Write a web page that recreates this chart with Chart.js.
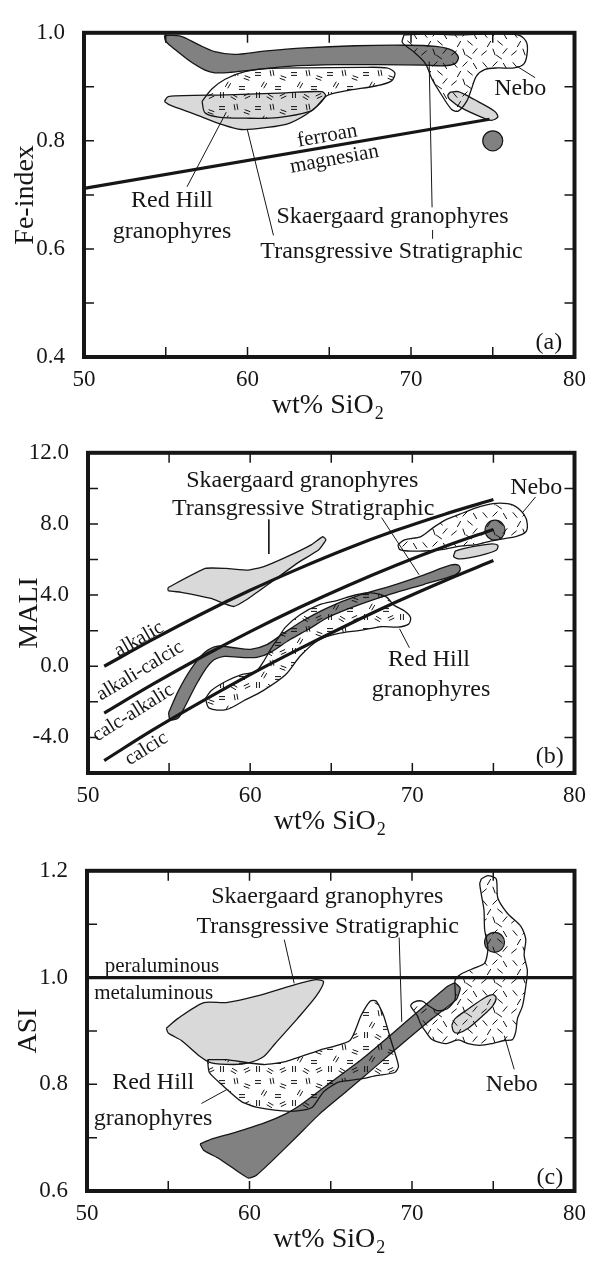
<!DOCTYPE html>
<html>
<head>
<meta charset="utf-8">
<script src="https://cdn.jsdelivr.net/npm/chart.js@4.4.1/dist/chart.umd.min.js"></script>
<style>
  html, body { margin: 0; padding: 0; background: #fff; }
  #wrap { position: relative; width: 595px; height: 1261px; overflow: hidden; }
  canvas { position: absolute; left: 0; }
</style>
</head>
<body>
<div id="wrap">
  <canvas id="chart-a" width="595" height="420" style="top:0px"></canvas>
  <canvas id="chart-b" width="595" height="418" style="top:420px"></canvas>
  <canvas id="chart-c" width="595" height="423" style="top:838px"></canvas>
</div>
<script>
// --- tick labels ---
const xTickLabels = [50, 60, 70, 80];
const feTickLabels = [0.4, 0.6, 0.8, 1.0];
const maliTickLabels = [-4, 0, 4, 8, 12];
const asiTickLabels = [0.6, 0.8, 1.0, 1.2];

// --- (a) Fe-index vs SiO2 ---
const feStratBand = [[54.92,0.995],[55.9,0.994],[57.0,0.978],[58.0,0.965],[59.2,0.960],[61.0,0.966],[63.5,0.972],[66.6,0.976],[69.5,0.977],[71.5,0.975],[72.5,0.968],[72.9,0.955],[72.7,0.943],[72.0,0.939],[70.9,0.940],[68.0,0.941],[65.5,0.941],[62.5,0.938],[60.5,0.932],[59.0,0.927],[58.0,0.926],[57.4,0.931],[56.6,0.945],[55.7,0.966],[55.0,0.984]];
const feTransField = [[54.92,0.873],[55.15,0.882],[58.7,0.885],[62.37,0.889],[64.54,0.891],[64.77,0.883],[63.97,0.857],[62.59,0.833],[60.99,0.824],[59.62,0.821],[58.47,0.830],[56.64,0.851],[55.27,0.866]];
const feRedHill = [[57.22,0.873],[57.82,0.896],[58.63,0.914],[59.84,0.928],[61.45,0.934],[63.5,0.935],[66.9,0.936],[68.51,0.935],[69.01,0.926],[68.81,0.911],[67.91,0.902],[66.09,0.893],[64.88,0.884],[64.3,0.866],[63.87,0.855],[61.86,0.843],[59.84,0.842],[58.23,0.844],[57.4,0.852]];
const feNebo = [[69.57,0.996],[70.88,0.998],[72.89,0.996],[74.91,0.998],[76.51,0.996],[77.02,0.985],[77.12,0.967],[76.92,0.943],[76.31,0.935],[75.31,0.935],[74.5,0.932],[74.0,0.920],[73.7,0.896],[73.4,0.873],[72.89,0.855],[72.49,0.858],[71.89,0.884],[71.29,0.914],[70.88,0.943],[70.08,0.967],[69.47,0.982]];
const feTransSmall = [[72.39,0.890],[72.89,0.891],[73.9,0.876],[75.11,0.855],[75.31,0.844],[74.91,0.838],[74.3,0.844],[73.09,0.861],[72.39,0.876],[72.25,0.884]];
const feBoundary = [[50,0.712],[74.8,0.840]];
const feSample = [[75.0,0.800]];
const feLeaders = [
  [[56.3,0.715],[58.7,0.853]],
  [[61.59,0.625],[59.98,0.822]],
  [[71.34,0.619],[71.32,0.635]],
  [[71.29,0.677],[71.11,0.947]],
  [[77.59,0.917],[76.48,0.938]]
];

// --- (b) MALI vs SiO2 ---
const maliTransField = [[54.94,4.43],[57.24,5.50],[58.51,5.50],[59.89,5.41],[60.8,5.59],[62.18,6.12],[63.79,6.84],[64.48,7.29],[64.67,7.11],[64.25,6.57],[62.87,5.77],[61.26,4.70],[59.89,3.81],[58.97,3.36],[57.59,3.81],[55.75,4.16],[54.94,4.25]];
const maliTransSmall = [[72.65,6.48],[73.35,6.66],[74.77,6.87],[75.27,6.80],[75.17,6.52],[74.16,6.22],[72.95,6.04],[72.55,6.16]];
const maliStratBand = [[54.97,-2.62],[55.58,-1.37],[56.38,-0.12],[57.19,0.77],[58.0,1.13],[59.01,1.04],[60.02,0.95],[61.03,1.22],[62.04,1.84],[63.25,2.56],[64.8,3.3],[66.69,3.98],[68.71,4.52],[70.73,5.14],[72.34,5.68],[72.85,5.68],[72.95,5.41],[72.65,5.14],[70.73,4.61],[68.71,4.07],[66.69,3.45],[64.8,2.75],[63.65,2.11],[62.44,1.49],[61.23,0.77],[60.42,0.50],[59.41,0.50],[58.4,0.55],[57.59,0.23],[56.79,-0.84],[55.98,-2.26],[55.58,-2.89],[55.07,-3.01]];
const maliRedHill = [[57.24,-1.82],[57.47,-2.35],[58.51,-2.44],[59.66,-1.91],[60.8,-1.37],[62.18,-0.48],[63.1,0.59],[64.25,1.49],[65.4,1.84],[66.78,2.02],[68.16,2.23],[69.08,2.20],[69.77,2.37],[69.89,2.73],[69.54,3.09],[68.85,3.45],[68.39,3.90],[67.47,4.13],[66.55,4.02],[65.4,3.71],[64.25,3.45],[63.1,2.91],[62.18,2.20],[61.72,1.57],[61.26,0.95],[60.8,0.23],[60.34,-0.30],[59.43,-0.48],[58.51,-0.84],[57.59,-1.37]];
const maliNebo = [[69.11,6.84],[69.52,7.11],[70.53,7.29],[71.33,7.82],[72.14,8.27],[73.15,8.63],[74.16,8.98],[75.17,9.16],[76.18,9.07],[76.89,8.53],[77.09,8.0],[76.99,7.55],[76.38,7.29],[75.58,7.16],[74.77,7.02],[73.96,6.84],[72.95,6.75],[71.94,6.57],[70.73,6.48],[69.72,6.48],[69.21,6.57]];
const maliAlkalic = [[51,0.0],[54,1.51],[57,2.94],[60,4.27],[63,5.49],[66,6.62],[69,7.64],[72,8.55],[75,9.37]];
const maliAlkaliCalcic = [[51,-2.63],[54,-1.01],[57,0.52],[60,1.95],[63,3.29],[66,4.53],[69,5.68],[72,6.73],[75,7.69]];
const maliCalcAlkalic = [[51,-5.3],[54,-3.58],[57,-1.99],[60,-0.47],[63,0.96],[66,2.32],[69,3.61],[72,4.81],[75,5.94]];
const maliSample = [[75.1,7.65]];
const maliLeaders = [
  [[61.15,8.25],[61.15,6.31]],
  [[68.1,8.36],[70.42,5.14]],
  [[77.6,9.52],[76.79,8.63]],
  [[69.82,1.04],[69.21,2.11]]
];

// --- (c) ASI vs SiO2 ---
const asiTransField = [[54.88,0.905],[55.58,0.923],[57.19,0.953],[58.57,0.953],[60.41,0.965],[62.72,0.986],[64.1,0.996],[64.56,0.992],[64.1,0.965],[62.95,0.923],[61.57,0.876],[60.88,0.852],[59.95,0.840],[59.03,0.837],[57.65,0.840],[56.96,0.852],[55.81,0.882],[55.0,0.896]];
const asiStratBand = [[56.96,0.688],[57.65,0.697],[59.03,0.709],[60.88,0.727],[62.26,0.745],[63.18,0.762],[65.02,0.804],[66.87,0.846],[68.71,0.893],[70.55,0.941],[72.17,0.983],[72.63,0.990],[72.97,0.980],[72.74,0.959],[71.24,0.923],[69.63,0.882],[67.79,0.834],[65.94,0.786],[64.33,0.745],[62.95,0.703],[61.34,0.655],[60.41,0.629],[59.95,0.624],[59.26,0.637],[58.11,0.661],[57.19,0.676]];
const asiRedHill = [[57.42,0.846],[58.57,0.846],[60.88,0.837],[62.26,0.843],[64.33,0.864],[66.18,0.882],[66.87,0.929],[67.44,0.956],[67.79,0.956],[68.25,0.929],[68.71,0.882],[69.17,0.834],[68.94,0.822],[67.79,0.816],[66.87,0.810],[65.48,0.804],[64.56,0.786],[63.87,0.757],[62.95,0.750],[62.03,0.750],[60.41,0.757],[59.49,0.768],[58.34,0.798],[57.53,0.822]];
const asiNebo = [[74.27,1.185],[74.67,1.191],[75.18,1.185],[75.28,1.149],[75.88,1.120],[76.7,1.096],[77.0,1.072],[76.9,1.042],[77.1,1.013],[77.0,0.983],[76.8,0.947],[76.49,0.923],[76.39,0.899],[76.19,0.884],[75.68,0.882],[74.88,0.876],[74.17,0.873],[73.46,0.876],[72.85,0.883],[72.04,0.876],[71.23,0.884],[70.83,0.899],[70.52,0.914],[70.32,0.929],[69.92,0.947],[70.12,0.954],[70.63,0.956],[71.03,0.947],[71.54,0.938],[72.14,0.941],[72.65,0.959],[72.65,0.995],[73.05,1.007],[73.86,1.018],[74.47,1.027],[74.67,1.054],[74.47,1.090],[74.43,1.126],[74.27,1.155],[74.17,1.176]];
const asiTransSmall = [[72.45,0.911],[72.65,0.923],[73.46,0.941],[74.47,0.962],[74.97,0.968],[75.18,0.962],[74.97,0.947],[74.27,0.926],[73.46,0.905],[72.85,0.896],[72.55,0.899]];
const asiBoundary = [[50,1.0],[80,1.0]];
const asiSample = [[75.08,1.066]];
const asiLeaders = [
  [[62.14,1.071],[62.75,0.989]],
  [[69.21,1.075],[69.37,0.917]],
  [[57.04,0.764],[58.6,0.79]],
  [[76.29,0.828],[75.68,0.891]]
];

const SERIF = '"Liberation Serif", "Times New Roman", serif';
const INK = '#161616';
const DARK = '#818181';
const LIGHT = '#d9d9d9';

// hatch patterns (transparent background)
function makePattern(ctx, w, h, marks, len, double) {
  const tile = document.createElement('canvas');
  tile.width = w; tile.height = h;
  const g = tile.getContext('2d');
  g.strokeStyle = '#111';
  g.lineWidth = 1;
  marks.forEach(([mx, my, ang]) => {
    const a = ang * Math.PI / 180;
    const dx = Math.cos(a) * len / 2, dy = Math.sin(a) * len / 2;
    (double ? [-1.4, 1.4] : [0]).forEach(o => {
      const ox = -Math.sin(a) * o, oy = Math.cos(a) * o;
      g.beginPath();
      g.moveTo(mx - dx + ox, my - dy + oy);
      g.lineTo(mx + dx + ox, my + dy + oy);
      g.stroke();
    });
  });
  return ctx.createPattern(tile, 'repeat');
}
const redHillMarks = [[6,6,0],[20,5,80],[31,10,20],[12,17,-60],[26,20,0],[6,27,90],[18,29,30],[31,28,-25]];
const neboMarks = [[5,5,50],[15,4,-45],[25,6,60],[9,14,-60],[20,13,40],[4,23,-40],[14,22,70],[25,21,-50],[19,27,35]];

const pts = arr => arr.map(([x, y]) => ({x, y}));
const shape = (arr, fill, tension) => ({
  type: 'line', data: pts(arr.concat([arr[0]])), fill: 'shape', backgroundColor: fill,
  borderColor: INK, borderWidth: 1.3, pointRadius: 0, tension: tension === undefined ? 0.3 : tension
});
const curve = (arr, width, mono) => ({
  type: 'line', data: pts(arr), fill: false, borderColor: INK, borderWidth: width, pointRadius: 0,
  tension: 0, cubicInterpolationMode: mono ? 'monotone' : 'default'
});
const dot = arr => ({
  type: 'scatter', data: pts(arr), showLine: false, pointRadius: 10,
  pointBackgroundColor: DARK, pointBorderColor: INK, pointBorderWidth: 1.2
});

const panels = {
  'chart-a': {
    box: {left: 84, right: 580, top: 18, bottom: 357},
    ymin: 0.4, ymax: 1.0, ystep: 0.1, yLabels: feTickLabels, yTitle: 'Fe-index', titleY: 413,
    texts: [
      {t: 'ferroan', x: 64.88, y: 0.809, s: 21, r: -10.3},
      {t: 'magnesian', x: 65.31, y: 0.766, s: 21, r: -10.3},
      {t: 'Red Hill', x: 55.38, y: 0.690},
      {t: 'granophyres', x: 55.38, y: 0.632},
      {t: 'Skaergaard granophyres', x: 68.87, y: 0.660},
      {t: 'Transgressive Stratigraphic', x: 68.81, y: 0.595},
      {t: 'Nebo', x: 76.68, y: 0.897},
      {t: '(a)', x: 78.43, y: 0.427}
    ],
    build: ctx => {
      const rh = makePattern(ctx, 36, 34, redHillMarks, 6, true);
      const nb = makePattern(ctx, 30, 30, neboMarks, 7, false);
      return [
        shape(feStratBand, DARK),
        shape(feTransField, LIGHT),
        shape(feRedHill, rh),
        shape(feTransSmall, LIGHT),
        shape(feNebo, nb),
        curve(feBoundary, 3.2),
        dot(feSample),
        ...feLeaders.map(s => curve(s, 1))
      ];
    }
  },
  'chart-b': {
    box: {left: 88, right: 583, top: 17, bottom: 353},
    ymin: -6, ymax: 12, ystep: 2, yLabels: maliTickLabels, yTitle: 'MALI', titleY: 409,
    texts: [
      {t: 'Skaergaard granophyres', x: 63.21, y: 10.45},
      {t: 'Transgressive Stratigraphic', x: 63.27, y: 8.84},
      {t: 'Nebo', x: 77.64, y: 10.02},
      {t: 'Red Hill', x: 71.03, y: 0.38},
      {t: 'granophyres', x: 71.15, y: -1.34},
      {t: 'alkalic', x: 53.15, y: 1.52, s: 20, r: -29.8},
      {t: 'alkali-calcic', x: 53.21, y: -0.27, s: 20, r: -31.2},
      {t: 'calc-alkalic', x: 52.79, y: -2.62, s: 20, r: -32},
      {t: 'calcic', x: 53.6, y: -4.64, s: 20, r: -32},
      {t: '(b)', x: 78.48, y: -5.09}
    ],
    build: ctx => {
      const rh = makePattern(ctx, 36, 34, redHillMarks, 6, true);
      const nb = makePattern(ctx, 30, 30, neboMarks, 7, false);
      return [
        shape(maliTransField, LIGHT, 0.15),
        shape(maliTransSmall, LIGHT),
        shape(maliStratBand, DARK),
        shape(maliRedHill, rh),
        dot(maliSample),
        shape(maliNebo, nb),
        curve(maliAlkalic, 3.2, true),
        curve(maliAlkaliCalcic, 3.2, true),
        curve(maliCalcAlkalic, 3.2, true),
        ...maliLeaders.map(s => curve(s, 1))
      ];
    }
  },
  'chart-c': {
    box: {left: 87, right: 581, top: 17, bottom: 353},
    ymin: 0.6, ymax: 1.2, ystep: 0.1, yLabels: asiTickLabels, yTitle: 'ASI', titleY: 409,
    texts: [
      {t: 'Skaergaard granophyres', x: 64.79, y: 1.152},
      {t: 'Transgressive Stratigraphic', x: 64.81, y: 1.096},
      {t: 'peraluminous', x: 54.61, y: 1.020, s: 21},
      {t: 'metaluminous', x: 54.10, y: 0.971, s: 21},
      {t: 'Red Hill', x: 54.07, y: 0.803},
      {t: 'granophyres', x: 54.07, y: 0.736},
      {t: 'Nebo', x: 76.14, y: 0.80},
      {t: '(c)', x: 78.48, y: 0.625}
    ],
    build: ctx => {
      const rh = makePattern(ctx, 36, 34, redHillMarks, 6, true);
      const nb = makePattern(ctx, 30, 30, neboMarks, 7, false);
      return [
        shape(asiTransField, LIGHT, 0.25),
        shape(asiStratBand, DARK, 0.12),
        shape(asiRedHill, rh, 0.2),
        shape(asiTransSmall, LIGHT),
        dot(asiSample),
        shape(asiNebo, nb, 0.25),
        curve(asiBoundary, 3.2),
        ...asiLeaders.map(s => curve(s, 1))
      ];
    }
  }
};

// box, inward ticks, titles and annotations
const decor = {
  id: 'decor',
  afterDatasetsDraw(chart) {
    const p = panels[chart.canvas.id];
    const {ctx, chartArea: a} = chart;
    const xs = chart.scales.x, ys = chart.scales.y;
    const TL = 10;
    ctx.save();
    ctx.strokeStyle = INK;
    ctx.lineWidth = 1.5;
    ctx.beginPath();
    xs.ticks.forEach(t => {
      if (t.value <= xs.min || t.value >= xs.max) return;
      const px = xs.getPixelForValue(t.value);
      ctx.moveTo(px, a.bottom); ctx.lineTo(px, a.bottom - TL);
      ctx.moveTo(px, a.top); ctx.lineTo(px, a.top + TL);
    });
    ys.ticks.forEach(t => {
      if (t.value <= ys.min + 1e-9 || t.value >= ys.max - 1e-9) return;
      const py = ys.getPixelForValue(t.value);
      ctx.moveTo(a.left, py); ctx.lineTo(a.left + TL, py);
      ctx.moveTo(a.right, py); ctx.lineTo(a.right - TL, py);
    });
    ctx.stroke();
    ctx.lineWidth = 4;
    ctx.strokeRect(a.left, a.top, a.right - a.left, a.bottom - a.top);

    ctx.fillStyle = INK;
    ctx.textAlign = 'center';
    ctx.textBaseline = 'middle';
    p.texts.forEach(l => {
      ctx.save();
      ctx.font = (l.s || 24) + 'px ' + SERIF;
      ctx.translate(xs.getPixelForValue(l.x), ys.getPixelForValue(l.y));
      if (l.r) ctx.rotate(l.r * Math.PI / 180);
      ctx.fillText(l.t, 0, 0);
      ctx.restore();
    });

    // x title with subscript
    const cx = (a.left + a.right) / 2 - 2;
    ctx.textBaseline = 'alphabetic';
    ctx.textAlign = 'left';
    ctx.font = '28px ' + SERIF;
    const main = 'wt% SiO';
    const w1 = ctx.measureText(main).width;
    ctx.font = '18px ' + SERIF;
    const w2 = ctx.measureText('2').width;
    const x0 = cx - (w1 + w2) / 2;
    ctx.font = '28px ' + SERIF;
    ctx.fillText(main, x0, p.titleY);
    ctx.font = '18px ' + SERIF;
    ctx.fillText('2', x0 + w1 + 1, p.titleY + 6);

    // y title
    ctx.save();
    ctx.font = '28px ' + SERIF;
    ctx.textAlign = 'center';
    ctx.translate(a.left - 51, (a.top + a.bottom) / 2);
    ctx.rotate(-Math.PI / 2);
    ctx.fillText(p.yTitle, 0, 0);
    ctx.restore();
    ctx.restore();
  }
};

Object.keys(panels).forEach(id => {
  const p = panels[id];
  const el = document.getElementById(id);
  const H = el.height;
  const datasets = p.build(el.getContext('2d'));
  // first item is drawn first (bottom), last item on top
  datasets.forEach((d, i) => { d.order = datasets.length - i; });
  new Chart(el, {
    type: 'scatter',
    data: { datasets },
    options: {
      responsive: false,
      animation: false,
      devicePixelRatio: 1,
      events: [],
      layout: { padding: { top: p.box.top, right: 595 - p.box.right, left: 0, bottom: 0 } },
      plugins: { legend: { display: false }, tooltip: { enabled: false } },
      scales: {
        x: {
          type: 'linear', position: 'bottom', min: 50, max: 80,
          grid: { display: false, drawTicks: false },
          border: { display: false },
          ticks: {
            stepSize: 5, autoSkip: false, maxRotation: 0, padding: 9, color: INK,
            font: { family: SERIF, size: 23 },
            callback: v => xTickLabels.includes(v) ? String(v) : ''
          },
          afterFit: s => { s.height = H - p.box.bottom; }
        },
        y: {
          type: 'linear', position: 'left', min: p.ymin, max: p.ymax,
          grid: { display: false, drawTicks: false },
          border: { display: false },
          ticks: {
            stepSize: p.ystep, autoSkip: false, padding: 19, color: INK,
            font: { family: SERIF, size: 23 },
            callback: v => p.yLabels.some(t => Math.abs(t - v) < 1e-6) ? v.toFixed(1) : ''
          },
          afterFit: s => { s.width = p.box.left; }
        }
      }
    },
    plugins: [decor]
  });
});
</script>
</body>
</html>
